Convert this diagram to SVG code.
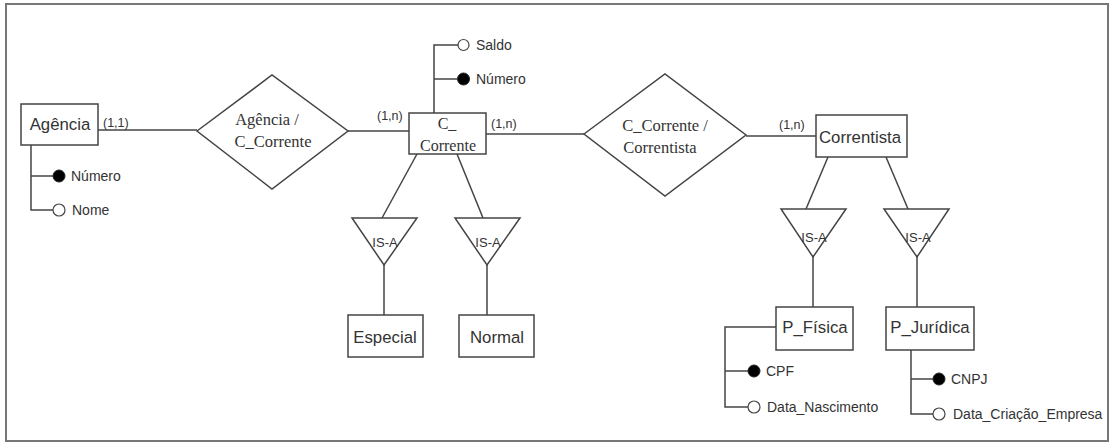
<svg xmlns="http://www.w3.org/2000/svg" width="1110" height="443" viewBox="0 0 1110 443">
<style>
.box{fill:#fff;stroke:#444;stroke-width:1.5}
.ln{fill:none;stroke:#444;stroke-width:1.5}
.ent{font-family:"Liberation Sans",Arial,sans-serif;font-size:16.8px;fill:#333;text-anchor:middle;dominant-baseline:central}
.rel{font-family:"Liberation Serif","Times New Roman",serif;font-size:16.5px;fill:#333;text-anchor:middle;dominant-baseline:central}
.att{font-family:"Liberation Sans",Arial,sans-serif;font-size:14px;fill:#333;dominant-baseline:central}
.card{font-family:"Liberation Sans",Arial,sans-serif;font-size:12.5px;fill:#333;dominant-baseline:central}
.isa{font-family:"Liberation Sans",Arial,sans-serif;font-size:13px;fill:#333;text-anchor:middle;dominant-baseline:central}
.key{fill:#000;stroke:#222;stroke-width:1}
.opt{fill:#fff;stroke:#444;stroke-width:1.2}
</style>
<rect x="0" y="0" width="1110" height="443" fill="#fff"/>
<rect x="6" y="4" width="1102" height="437" fill="none" stroke="#777" stroke-width="2"/>
<g id="connectors">
<line class="ln" x1="98" y1="130" x2="197" y2="130"/>
<line class="ln" x1="348" y1="131" x2="409" y2="131"/>
<line class="ln" x1="486" y1="134" x2="584" y2="134"/>
<line class="ln" x1="746" y1="136" x2="816" y2="136"/>
<line class="ln" x1="417" y1="154" x2="382" y2="218"/>
<line class="ln" x1="457" y1="154" x2="483" y2="218"/>
<line class="ln" x1="384" y1="265" x2="384" y2="315"/>
<line class="ln" x1="487" y1="265" x2="487" y2="315"/>
<line class="ln" x1="828" y1="157" x2="806" y2="209"/>
<line class="ln" x1="886" y1="157" x2="908" y2="209"/>
<line class="ln" x1="813" y1="257" x2="813" y2="307"/>
<line class="ln" x1="917" y1="257" x2="917" y2="307"/>
<text class="card" x="103" y="123">(1,1)</text>
<text class="card" x="377" y="116">(1,n)</text>
<text class="card" x="491" y="124">(1,n)</text>
<text class="card" x="779" y="125">(1,n)</text>
</g>
<g id="agencia">
<rect class="box" x="21" y="104" width="77" height="41"/>
<text class="ent" x="60" y="124">Agência</text>
<polyline class="ln" points="31,145 31,210 53,210"/>
<line class="ln" x1="31" y1="176" x2="53" y2="176"/>
<circle class="key" cx="59" cy="176" r="6"/>
<circle class="opt" cx="59" cy="210" r="6"/>
<text class="att" x="71" y="176">Número</text>
<text class="att" x="72" y="210">Nome</text>
</g>
<g id="rel-agencia-ccorrente">
<polygon class="box" points="197,131 272,75 348,131 272,189"/>
<text class="rel" x="267" y="119">Agência /</text>
<text class="rel" x="273" y="141">C_Corrente</text>
</g>
<g id="c-corrente">
<rect class="box" x="409" y="113" width="77" height="41"/>
<text class="rel" x="447" y="123" style="font-size:16px">C_</text>
<text class="rel" x="448" y="145" style="font-size:16px">Corrente</text>
<polyline class="ln" points="434,113 434,45 458,45"/>
<line class="ln" x1="434" y1="79" x2="457" y2="79"/>
<circle class="opt" cx="463.5" cy="45" r="5.5"/>
<circle class="key" cx="463.5" cy="79" r="6"/>
<text class="att" x="476" y="45">Saldo</text>
<text class="att" x="476" y="79">Número</text>
</g>
<g id="rel-ccorrente-correntista">
<polygon class="box" points="584,134 665,74 746,135 665,196"/>
<text class="rel" x="665" y="125">C_Corrente /</text>
<text class="rel" x="660" y="147">Correntista</text>
</g>
<g id="correntista">
<rect class="box" x="816" y="115" width="91" height="42"/>
<text class="ent" x="860" y="137">Correntista</text>
</g>
<g id="isa-especial">
<polygon class="box" points="352,218 417,218 384,265"/>
<text class="isa" x="385" y="242">IS-A</text>
</g>
<g id="isa-normal">
<polygon class="box" points="455,218 520,218 487,265"/>
<text class="isa" x="488" y="242">IS-A</text>
</g>
<g id="isa-fisica">
<polygon class="box" points="781,209 846,209 813,257"/>
<text class="isa" x="814" y="237">IS-A</text>
</g>
<g id="isa-juridica">
<polygon class="box" points="884,209 949,209 917,257"/>
<text class="isa" x="918" y="237">IS-A</text>
</g>
<g id="especial">
<rect class="box" x="348" y="315" width="75" height="42"/>
<text class="ent" x="385" y="337">Especial</text>
</g>
<g id="normal">
<rect class="box" x="459" y="315" width="75" height="42"/>
<text class="ent" x="497" y="337">Normal</text>
</g>
<g id="p-fisica">
<rect class="box" x="776" y="307" width="77" height="43"/>
<text class="ent" x="815" y="327">P_Física</text>
<polyline class="ln" points="776,327 725,327 725,407 748,407"/>
<line class="ln" x1="725" y1="371" x2="748" y2="371"/>
<circle class="key" cx="754" cy="371" r="6"/>
<circle class="opt" cx="754" cy="407" r="6"/>
<text class="att" x="766" y="371">CPF</text>
<text class="att" x="767" y="407">Data_Nascimento</text>
</g>
<g id="p-juridica">
<rect class="box" x="886" y="307" width="88" height="43"/>
<text class="ent" x="930" y="327">P_Jurídica</text>
<polyline class="ln" points="911,350 911,414 933,414"/>
<line class="ln" x1="911" y1="379" x2="933" y2="379"/>
<circle class="key" cx="939" cy="379" r="6"/>
<circle class="opt" cx="939" cy="414" r="6"/>
<text class="att" x="951" y="379">CNPJ</text>
<text class="att" x="953" y="414">Data_Criação_Empresa</text>
</g>
</svg>
